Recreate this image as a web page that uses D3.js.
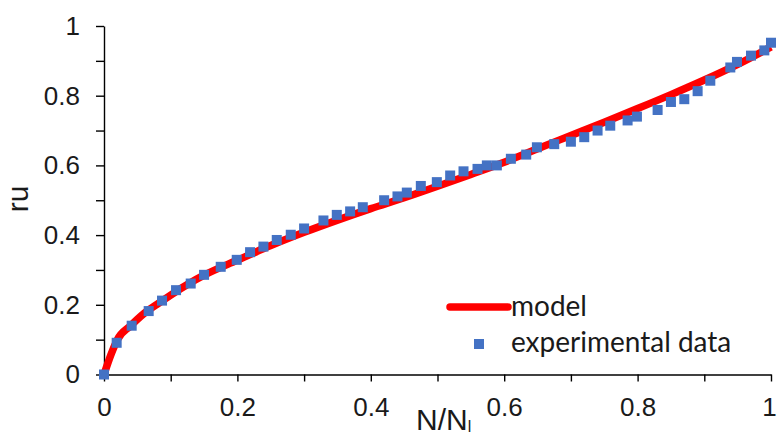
<!DOCTYPE html>
<html>
<head>
<meta charset="utf-8">
<script src="https://cdn.jsdelivr.net/npm/d3@7/dist/d3.min.js"></script>
<style>
  html, body { margin: 0; padding: 0; background: #fff; }
  svg { display: block; }
</style>
</head>
<body>
<svg id="chart" width="777" height="436"></svg>
<script>
// Experimental data (N/Nl vs ru)
const expX = [0, 0.019, 0.0415, 0.067, 0.087, 0.108, 0.130, 0.150, 0.175, 0.199,
  0.219, 0.239, 0.259, 0.280, 0.300, 0.329, 0.349, 0.369, 0.388, 0.420,
  0.440, 0.454, 0.475, 0.499, 0.519, 0.539, 0.560, 0.574, 0.589, 0.610,
  0.633, 0.649, 0.675, 0.700, 0.720, 0.740, 0.759, 0.785, 0.799, 0.830,
  0.850, 0.870, 0.890, 0.909, 0.939, 0.949, 0.970, 0.990, 1.0];
const expY = [0, 0.091, 0.140, 0.182, 0.212, 0.242, 0.261, 0.286, 0.309, 0.329,
  0.351, 0.367, 0.386, 0.401, 0.419, 0.442, 0.458, 0.468, 0.480, 0.500,
  0.511, 0.522, 0.541, 0.552, 0.571, 0.583, 0.590, 0.600, 0.600, 0.619,
  0.631, 0.652, 0.661, 0.668, 0.681, 0.700, 0.714, 0.729, 0.740, 0.759,
  0.782, 0.790, 0.813, 0.843, 0.881, 0.897, 0.915, 0.930, 0.952];

// Model curve
const modelX = [0, 0.01, 0.02, 0.04, 0.06, 0.08, 0.10, 0.15, 0.20, 0.25, 0.30,
  0.35, 0.40, 0.45, 0.50, 0.55, 0.60, 0.65, 0.70, 0.75, 0.80, 0.85, 0.90, 0.95, 1.0];
const modelY = [0, 0.055, 0.100, 0.140, 0.175, 0.202, 0.228, 0.285, 0.328, 0.370, 0.408,
  0.443, 0.476, 0.507, 0.540, 0.574, 0.609, 0.648, 0.686, 0.724, 0.763, 0.803, 0.845, 0.890, 0.940];

const tickVals = [0, 0.1, 0.2, 0.3, 0.4, 0.5, 0.6, 0.7, 0.8, 0.9, 1];
const tickLabels = { 0: "0", 0.2: "0.2", 0.4: "0.4", 0.6: "0.6", 0.8: "0.8", 1: "1" };

const svg = d3.select("#chart");
const x = d3.scaleLinear().domain([0, 1]).range([104, 771]);
const y = d3.scaleLinear().domain([0, 1]).range([374.5, 26]);

const fmt = d => tickLabels[Math.round(d * 10) / 10] ?? "";
const axisFont = "'Liberation Sans', Arial, sans-serif";

// Axes
const gx = svg.append("g")
  .attr("transform", `translate(0,${y(0)})`)
  .call(d3.axisBottom(x).tickValues(tickVals).tickFormat(fmt)
    .tickSize(7).tickSizeOuter(0).tickPadding(16));
const gy = svg.append("g")
  .attr("transform", `translate(${x(0)},0)`)
  .call(d3.axisLeft(y).tickValues(tickVals).tickFormat(fmt)
    .tickSize(8).tickSizeOuter(0).tickPadding(16));

[gx, gy].forEach(g => {
  g.select(".domain").attr("stroke", "#000").attr("stroke-width", 1.4);
  g.selectAll(".tick line").attr("stroke", "#000").attr("stroke-width", 1.4);
  g.selectAll(".tick text")
    .attr("fill", "#1a1a1a")
    .style("font-family", axisFont)
    .style("font-size", "26px");
});
// keep the last x label inside the right edge
gx.selectAll(".tick text").filter(d => d === 1).attr("x", -2);

// Model line
const line = d3.line()
  .x((d, i) => x(modelX[i]))
  .y((d, i) => y(modelY[i]))
  .curve(d3.curveMonotoneX);
svg.append("path")
  .datum(modelX)
  .attr("d", line)
  .attr("fill", "none")
  .attr("stroke", "#ff0000")
  .attr("stroke-width", 7.5)
  .attr("stroke-linejoin", "round");

// Experimental markers
const sq = 10;
svg.append("g").selectAll("rect")
  .data(expX)
  .join("rect")
  .attr("x", (d, i) => x(expX[i]) - sq / 2)
  .attr("y", (d, i) => y(expY[i]) - sq / 2)
  .attr("width", sq)
  .attr("height", sq)
  .attr("fill", "#4472c4");

// Axis titles
svg.append("text")
  .attr("transform", "translate(28,199) rotate(-90)")
  .attr("text-anchor", "middle")
  .attr("fill", "#1a1a1a")
  .style("font-family", axisFont)
  .style("font-size", "30px")
  .text("ru");

const xt = svg.append("text")
  .attr("x", 416)
  .attr("y", 430)
  .attr("fill", "#1a1a1a")
  .style("font-family", axisFont)
  .style("font-size", "30px");
xt.append("tspan").text("N/N");
xt.append("tspan").attr("dy", 2).style("font-size", "16px").text("l");

// Legend
const legFont = "Lato, 'Open Sans', sans-serif";
svg.append("line")
  .attr("x1", 450).attr("x2", 508)
  .attr("y1", 307).attr("y2", 307)
  .attr("stroke", "#ff0000")
  .attr("stroke-width", 7.5)
  .attr("stroke-linecap", "round");
svg.append("text")
  .attr("x", 511).attr("y", 316)
  .attr("fill", "#1a1a1a")
  .style("font-family", legFont)
  .style("font-size", "28px")
  .text("model");
svg.append("rect")
  .attr("x", 479 - sq / 2).attr("y", 344 - sq / 2)
  .attr("width", sq).attr("height", sq)
  .attr("fill", "#4472c4");
svg.append("text")
  .attr("x", 511).attr("y", 352)
  .attr("fill", "#1a1a1a")
  .style("font-family", legFont)
  .style("font-size", "28px")
  .text("experimental data");
</script>
</body>
</html>
